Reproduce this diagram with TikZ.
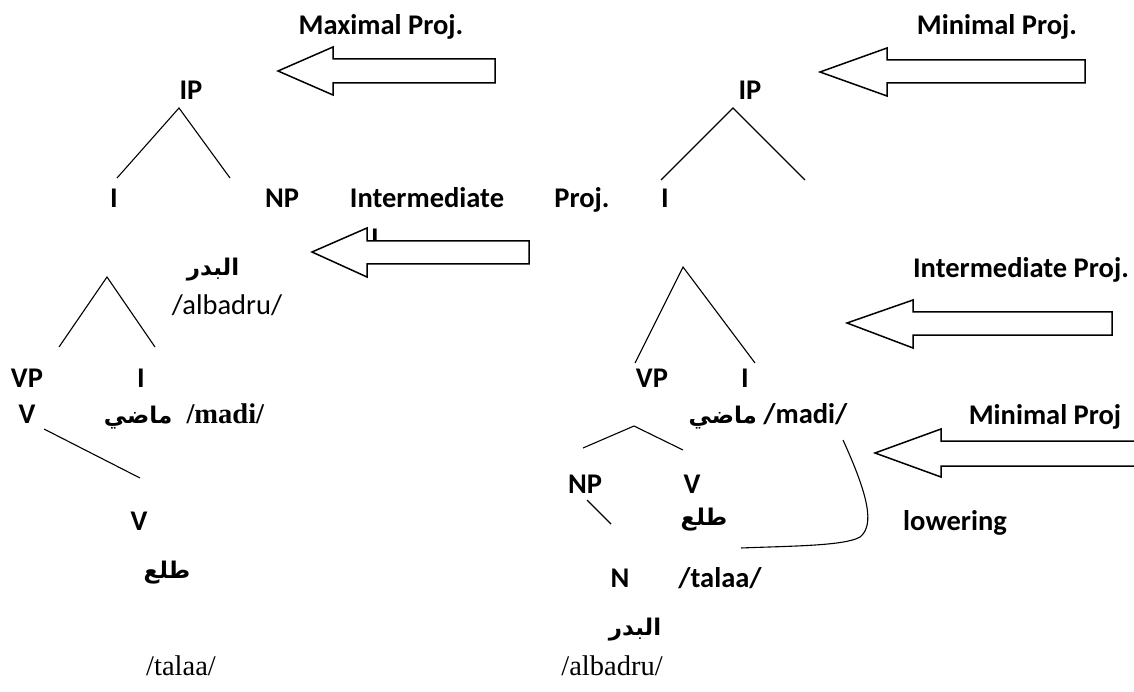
\documentclass[tikz,border=0pt]{standalone}
\usepackage{fontspec}
\setmainfont{Liberation Serif}
\newfontfamily\calibri{Carlito}
\newfontfamily\arabicfont[Script=Arabic]{DejaVu Sans}
\TeXXeTstate=1
\usetikzlibrary{positioning}
\newcommand{\fsz}{\fontsize{28.5}{34}\selectfont}
\newcommand{\arsz}{\fontsize{23}{27}\selectfont}
\tikzstyle{lbl}=[inner sep=0pt, anchor=base, font=\calibri\bfseries\fsz]
\tikzstyle{lblthin}=[inner sep=0pt, anchor=base, font=\calibri\fsz]
\tikzstyle{tms}=[inner sep=0pt, anchor=base, font=\fsz]
\tikzstyle{arb}=[inner sep=0pt, anchor=base, font=\arabicfont\bfseries\arsz]
\tikzstyle{branch}=[line width=1.1pt, draw=black]
\tikzstyle{projarrow}=[line width=1.5pt, fill=white, draw=black, line join=miter]
\begin{document}
\begin{tikzpicture}[x=1pt, y=-1pt]
    \useasboundingbox (0,0) rectangle (1134,692);

    % left tree
    \node [lbl] (maxp) at (381,35) {Maximal Proj.};
    \draw [projarrow] (278,71) -- (333,47) -- (333,59) -- (495,59) -- (495,83) -- (333,83) -- (333,95) -- cycle;

    \node [lbl] (ipL) at (191,100) {IP};
    \coordinate (apL) at (179,108);
    \coordinate (lL) at (117,178);
    \coordinate (rL) at (230,178);
    \draw [branch] (lL) -- (apL) -- (rL);

    \node [lbl] (iL) at (114,208) {I};
    \node [lbl] (npL) at (282,208) {NP};
    \node [lbl] (inter) at (427,208) {Intermediate};
    \node [lbl] (proj) at (582,208) {Proj.};
    \node [lbl] (iR) at (665,208) {I};

    \node [lbl] (iHid) at (375,248) {I};
    \draw [projarrow] (312,252) -- (367,228) -- (367,241) -- (529,241) -- (529,264) -- (367,264) -- (367,277) -- cycle;

    \node [arb] (badrL) at (213,276) {\beginR البدر\endR};
    \node [lblthin] (albadruL) at (227,315) {/albadru/};

    \coordinate (apL2) at (107,277);
    \coordinate (lL2) at (59,347);
    \coordinate (rL2) at (155,347);
    \draw [branch] (lL2) -- (apL2) -- (rL2);

    \node [lbl] (vpL) at (27,387) {VP};
    \node [lbl] (iL2) at (141,387) {I};
    \node [lbl] (vL) at (27,423) {V};
    \node [tms, font=\bfseries\fsz] (madiL) at (184,423) {{\arabicfont\arsz\beginR ماضي\endR}\ \ /madi/};

    \coordinate (vL1) at (44,429);
    \coordinate (vL3) at (140,478);
    \draw [branch] (vL1) -- (vL3);

    \node [lbl] (vL2) at (139,530) {V};
    \node [arb] (talaL) at (167,578) {\beginR طلع\endR};
    \node [tms] (talaaL) at (181,675) {/talaa/};

    % right tree
    \node [lbl] (minp) at (997,35) {Minimal Proj.};
    \draw [projarrow] (820,72) -- (887,48) -- (887,60) -- (1085,60) -- (1085,83) -- (887,83) -- (887,96) -- cycle;

    \node [lbl] (ipR) at (750,100) {IP};
    \coordinate (apR) at (733,108);
    \coordinate (lR) at (661,180);
    \coordinate (rR) at (805,180);
    \draw [branch] (lR) -- (apR) -- (rR);

    \coordinate (apR2) at (683,267);
    \coordinate (lR2) at (635,363);
    \coordinate (rR2) at (755,363);
    \draw [branch] (lR2) -- (apR2) -- (rR2);

    \node [lbl] (interp) at (1021,278) {Intermediate Proj.};
    \draw [projarrow] (847,323) -- (913,300) -- (913,312) -- (1112,312) -- (1112,335) -- (913,335) -- (913,348) -- cycle;

    \node [lbl] (vpR) at (652,387) {VP};
    \node [lbl] (iR2) at (745,387) {I};
    \node [lbl] (madiR) at (768,423) {{\arabicfont\arsz\beginR ماضي\endR} /madi/};

    \node [lbl] (minp2) at (1045,424) {Minimal Proj};
    \draw [projarrow] (1134,441) -- (941,441) -- (941,429) -- (875,453) -- (941,477) -- (941,466) -- (1134,466);

    \coordinate (apR3) at (634,426);
    \coordinate (lR3) at (583,448);
    \coordinate (rR3) at (683,450);
    \draw [branch] (lR3) -- (apR3) -- (rR3);

    \node [lbl] (npR) at (585,493) {NP};
    \node [lbl] (vR) at (692,493) {V};
    \node [arb] (talaR) at (704,525) {\beginR طلع\endR};

    \coordinate (npR1) at (587,500);
    \coordinate (npR2) at (611,524);
    \draw [branch] (npR1) -- (npR2);

    % lowering line
    \coordinate (lowA) at (843,440);
    \coordinate (lowB) at (860,537);
    \coordinate (lowC) at (741,548);
    \draw [branch] (lowA) .. controls (868,495) and (875,525) .. (lowB) .. controls (845,546) and (790,546) .. (lowC);
    \node [lbl] (lower) at (955,530) {lowering};

    \node [lbl] (nR) at (620,587) {N};
    \node [lbl] (talaaR) at (720,587) {/talaa/};
    \node [arb] (badrR) at (635,635) {\beginR البدر\endR};
    \node [tms] (albadruR) at (612,675) {/albadru/};
\end{tikzpicture}
\end{document}
